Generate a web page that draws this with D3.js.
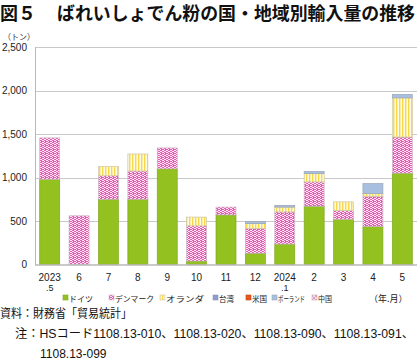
<!DOCTYPE html>
<html>
<head>
<meta charset="utf-8">
<script src="https://cdn.jsdelivr.net/npm/d3@7"></script>
<style>
  body { margin: 0; background: #fff; }
  text { font-family: "Noto Sans CJK JP", "Liberation Sans", sans-serif; }
  .num { font-family: "Liberation Sans", Arial, sans-serif; }
  .mix { font-family: "Liberation Sans", "Noto Sans CJK JP", sans-serif; }
</style>
</head>
<body>
<div id="chart"></div>
<script>
// months on the x axis (two-line labels)
const months = ["2023", "6", "7", "8", "9", "10", "11", "12", "2024", "2", "3", "4", "5"];
const subLabels = [".5", "", "", "", "", "", "", "", ".1", "", "", "", ""];

// imports in tonnes
const germany     = [980, 0, 750, 750, 1100, 40, 570, 130, 235, 670, 520, 435, 1050];
const denmark     = [475, 560, 270, 325, 240, 405, 90, 285, 370, 280, 100, 350, 415];
const netherlands = [0, 0, 105, 195, 0, 100, 0, 55, 55, 95, 100, 30, 450];
const taiwan      = [0, 0, 0, 0, 0, 0, 0, 0, 0, 0, 0, 0, 0];
const usa         = [0, 0, 0, 0, 0, 0, 0, 0, 0, 0, 0, 0, 0];
const poland      = [0, 0, 0, 0, 0, 0, 0, 25, 20, 25, 0, 115, 40];
const china       = [0, 0, 0, 0, 0, 0, 0, 0, 0, 0, 0, 0, 0];

const yTicks = [0, 500, 1000, 1500, 2000, 2500];

const seriesNames = ["ドイツ", "デンマーク", "オランダ", "台湾", "米国", "ポーランド", "中国"];
const seriesKeys = ["germany", "denmark", "netherlands", "taiwan", "usa", "poland", "china"];

const rows = months.map((m, i) => ({
    month: i,
    germany: germany[i],
    denmark: denmark[i],
    netherlands: netherlands[i],
    taiwan: taiwan[i],
    usa: usa[i],
    poland: poland[i],
    china: china[i]
}));

const W = 420, H = 363;
const svg = d3.select("#chart").append("svg")
    .attr("width", W)
    .attr("height", H);

// patterns
const defs = svg.append("defs");

const pDen = defs.append("pattern").attr("id", "pat-den")
    .attr("patternUnits", "userSpaceOnUse").attr("width", 4).attr("height", 4);
pDen.append("rect").attr("width", 4).attr("height", 4).attr("fill", "#fbe8f4");
pDen.append("path").attr("d", "M0,0h2v1h-2z M2,1h2v1h-2z M0,2h2v1h-2z M2,3h2v1h-2z M1,1h1v1h-1z M3,3h1v1h-1z")
    .attr("fill", "#e35cb2");

const pNl = defs.append("pattern").attr("id", "pat-nl")
    .attr("patternUnits", "userSpaceOnUse").attr("width", 3).attr("height", 3);
pNl.append("rect").attr("width", 3).attr("height", 3).attr("fill", "#fffbe6");
pNl.append("rect").attr("x", 0).attr("width", 1.4).attr("height", 3).attr("fill", "#f6d84a");

const pCn = defs.append("pattern").attr("id", "pat-cn")
    .attr("patternUnits", "userSpaceOnUse").attr("width", 4).attr("height", 4);
pCn.append("rect").attr("width", 4).attr("height", 4).attr("fill", "#f3e3ec");
pCn.append("path").attr("d", "M0,0 L4,4 M4,0 L0,4")
    .attr("stroke", "#d88cb4").attr("stroke-width", 0.8);

const fills = {
    germany: "#93c11f",
    denmark: "url(#pat-den)",
    netherlands: "url(#pat-nl)",
    taiwan: "#8c9bd2",
    usa: "#e8561c",
    poland: "#a8bfdf",
    china: "url(#pat-cn)"
};
const strokes = {
    germany: "#7fa820",
    denmark: "#c9b6c6",
    netherlands: "#cfc6a0",
    taiwan: "#8f96b0",
    usa: "#c04a1a",
    poland: "#9aa6b8",
    china: "#c8b0c0"
};

const x = d3.scaleBand()
    .domain(d3.range(months.length))
    .range([35, 417])
    .paddingInner(0.32)
    .paddingOuter(0.16);

const y = d3.scaleLinear()
    .domain([0, 2500])
    .range([264.5, 47]);

// title
svg.append("text")
    .attr("x", 0).attr("y", 20)
    .attr("font-size", 18).attr("font-weight", "bold")
    .attr("fill", "#111")
    .text("図５");
svg.append("text")
    .attr("x", 57).attr("y", 20)
    .attr("font-size", 18).attr("font-weight", "bold")
    .attr("fill", "#111")
    .attr("textLength", 358).attr("lengthAdjust", "spacingAndGlyphs")
    .text("ばれいしょでん粉の国・地域別輸入量の推移");

// unit
svg.append("text")
    .attr("x", 3).attr("y", 40)
    .attr("font-size", 8).attr("fill", "#333")
    .text("（トン）");

// gridlines
svg.append("g")
    .selectAll("line")
    .data(yTicks.filter(d => d > 0))
    .enter()
    .append("line")
    .attr("x1", 35).attr("x2", 417)
    .attr("y1", d => Math.round(y(d)) + 0.5)
    .attr("y2", d => Math.round(y(d)) + 0.5)
    .attr("stroke", "#c9c9c9").attr("stroke-width", 1);

// y tick labels
svg.append("g")
    .selectAll("text")
    .data(yTicks)
    .enter()
    .append("text")
    .attr("class", "num")
    .attr("x", 27)
    .attr("y", d => y(d) + 3.5)
    .attr("text-anchor", "end")
    .attr("font-size", 10)
    .attr("fill", "#222")
    .text(d => d3.format(",")(d));

// stacked bars
const stack = d3.stack().keys(seriesKeys)(rows);

svg.append("g")
    .selectAll("g")
    .data(stack)
    .enter()
    .append("g")
    .each(function (layer) {
        d3.select(this).selectAll("rect")
            .data(layer.filter(d => d[1] - d[0] > 0))
            .enter()
            .append("rect")
            .attr("x", d => x(d.data.month))
            .attr("width", x.bandwidth())
            .attr("y", d => y(d[1]))
            .attr("height", d => y(d[0]) - y(d[1]))
            .attr("fill", fills[layer.key])
            .attr("stroke", strokes[layer.key])
            .attr("stroke-width", 0.7);
    });

// axes lines
svg.append("line")
    .attr("x1", 35.5).attr("x2", 35.5)
    .attr("y1", 47).attr("y2", 265)
    .attr("stroke", "#b8b8b8");
svg.append("line")
    .attr("x1", 35).attr("x2", 417)
    .attr("y1", 265).attr("y2", 265)
    .attr("stroke", "#b8b8b8").attr("stroke-width", 1.5);

// x labels
const xl = svg.append("g");
xl.selectAll("text.m")
    .data(months)
    .enter()
    .append("text")
    .attr("class", "num m")
    .attr("x", (d, i) => x(i) + x.bandwidth() / 2)
    .attr("y", 281)
    .attr("text-anchor", "middle")
    .attr("font-size", 10)
    .attr("fill", "#222")
    .text(d => d);
xl.selectAll("text.s")
    .data(subLabels)
    .enter()
    .append("text")
    .attr("class", "num s")
    .attr("x", (d, i) => x(i) + x.bandwidth() / 2)
    .attr("y", 291)
    .attr("text-anchor", "middle")
    .attr("font-size", 9)
    .attr("fill", "#222")
    .text(d => d);

// legend
const legendX = [63, 109, 160, 213, 246, 272, 312];
const legendW = [24, 39, 38, 15, 15, 27, 14];
const legend = svg.append("g");
seriesKeys.forEach((k, i) => {
    legend.append("rect")
        .attr("x", legendX[i]).attr("y", 295)
        .attr("width", 5).attr("height", 5)
        .attr("fill", fills[k])
        .attr("stroke", strokes[k]).attr("stroke-width", 0.6);
    legend.append("text")
        .attr("x", legendX[i] + 6).attr("y", 301.5)
        .attr("font-size", 8).attr("fill", "#222")
        .attr("textLength", legendW[i]).attr("lengthAdjust", "spacingAndGlyphs")
        .text(seriesNames[i]);
});
legend.append("text")
    .attr("x", 369).attr("y", 302)
    .attr("font-size", 9).attr("fill", "#222")
    .text("（年.月）");

// source and note
svg.append("text")
    .attr("x", 0).attr("y", 318)
    .attr("font-size", 12).attr("fill", "#111")
    .attr("textLength", 132).attr("lengthAdjust", "spacingAndGlyphs")
    .text("資料：財務省「貿易統計」");
svg.append("text")
    .attr("class", "mix")
    .attr("x", 15).attr("y", 338)
    .attr("font-size", 12).attr("fill", "#111")
    .attr("textLength", 399).attr("lengthAdjust", "spacingAndGlyphs")
    .text("注：HSコード1108.13-010、1108.13-020、1108.13-090、1108.13-091、");
svg.append("text")
    .attr("class", "num")
    .attr("x", 40).attr("y", 358)
    .attr("font-size", 12).attr("fill", "#111")
    .text("1108.13-099");
</script>
</body>
</html>
